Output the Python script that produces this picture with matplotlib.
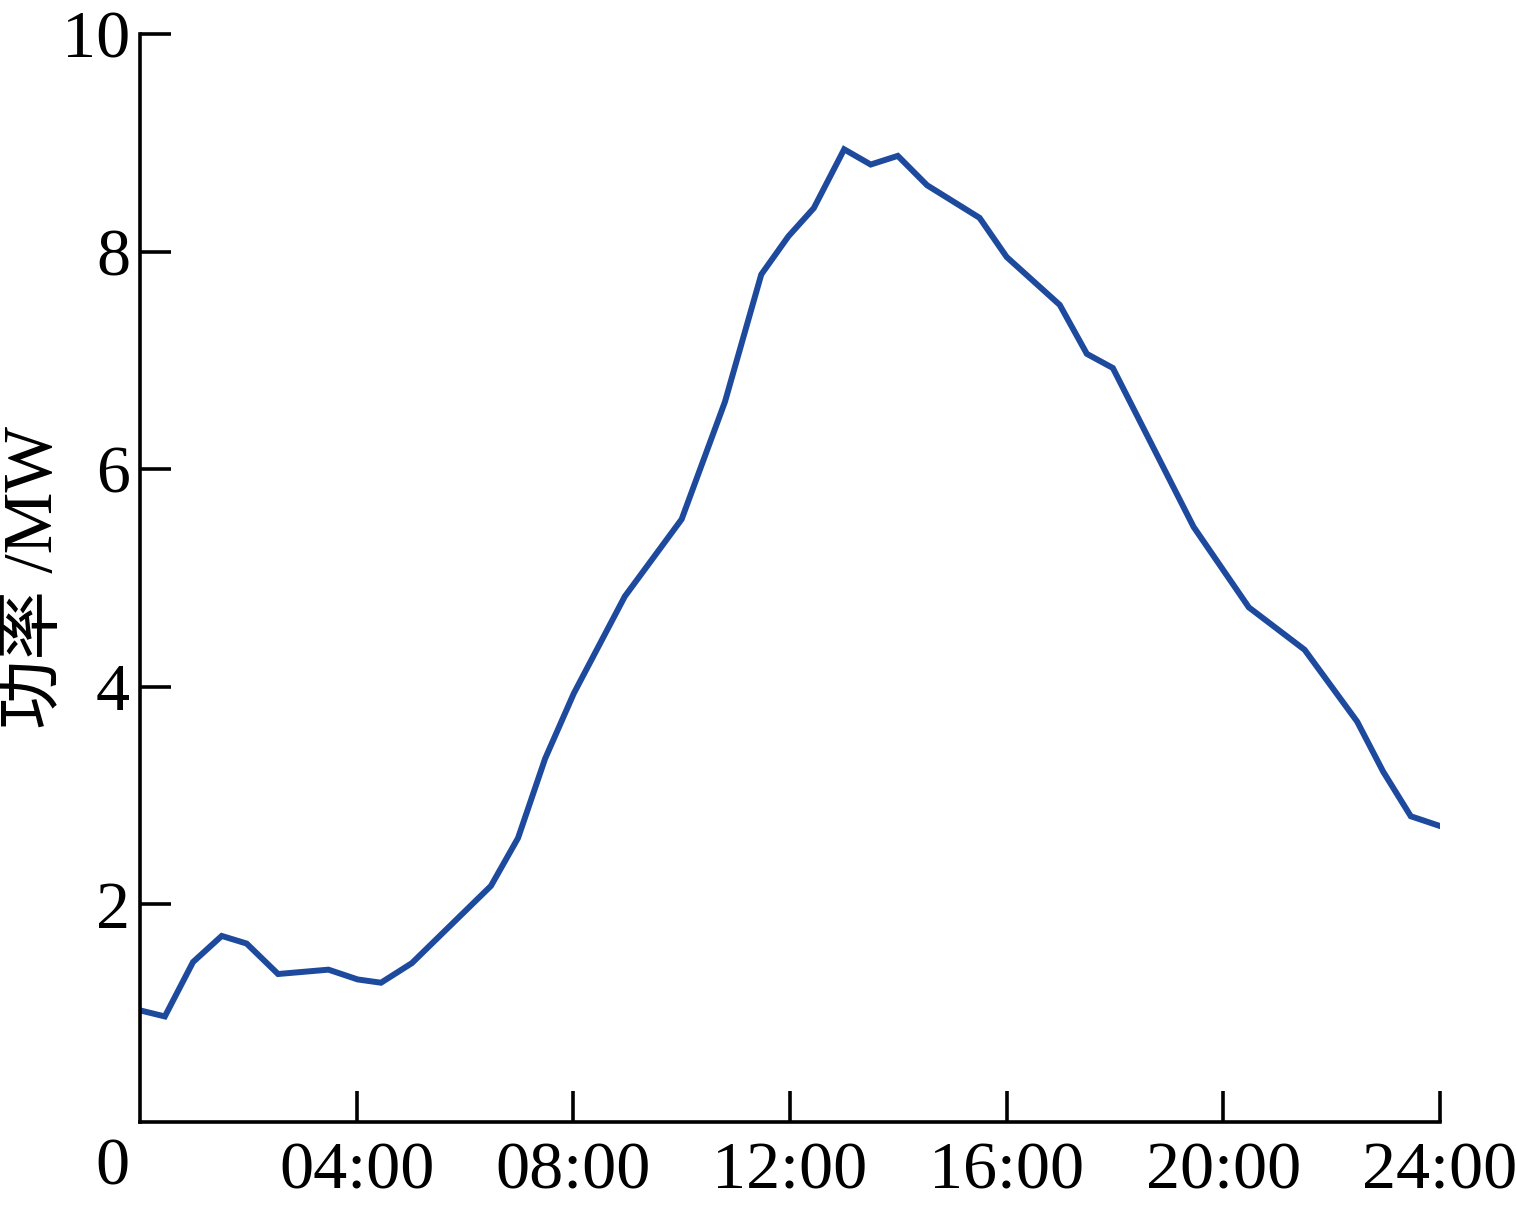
import matplotlib
matplotlib.use("Agg")
import matplotlib.pyplot as plt

# Daily power curve (hours, MW)
hours = [0.05, 0.46, 0.98, 1.51, 1.97, 2.55, 3.48, 4.02, 4.45, 5.02, 6.48,
         6.98, 7.48, 8.01, 8.95, 10.0, 10.8, 11.47, 11.97, 12.44, 13.0,
         13.49, 13.99, 14.53, 15.50, 16.0, 16.98, 17.48, 17.96, 19.45,
         20.47, 21.5, 22.47, 22.95, 23.46, 24.0]
power = [1.02, 0.97, 1.47, 1.71, 1.64, 1.36, 1.40, 1.31, 1.28, 1.46, 2.17,
         2.61, 3.34, 3.94, 4.83, 5.54, 6.62, 7.79, 8.14, 8.40, 8.94,
         8.80, 8.88, 8.61, 8.31, 7.95, 7.51, 7.06, 6.93, 5.47,
         4.73, 4.34, 3.68, 3.22, 2.81, 2.72]

xticks = [4, 8, 12, 16, 20, 24]
xtick_labels = ["04:00", "08:00", "12:00", "16:00", "20:00", "24:00"]
yticks = [2, 4, 6, 8, 10]

plt.rcParams["font.family"] = ["Liberation Serif", "Noto Sans CJK SC"]

fig = plt.figure(figsize=(15.16, 12.14), dpi=100)
ax = fig.add_axes([0.0923, 0.0758, 0.8576, 0.8962])

ax.plot(hours, power, color="#1e4a9e", lw=4.3, solid_joinstyle="miter")

ax.set_xlim(0, 24)
ax.set_ylim(0, 10)
ax.set_xticks(xticks)
ax.set_xticklabels(xtick_labels)
ax.set_yticks(yticks)
for s in ("top", "right"):
    ax.spines[s].set_visible(False)
for s in ("left", "bottom"):
    ax.spines[s].set_linewidth(2.6)
ax.tick_params(direction="in", length=22, width=2.6, labelsize=49)
ax.tick_params(axis="x", pad=14)
ax.tick_params(axis="y", pad=7)
ax.set_ylabel("功率 /MW", fontsize=50)
ax.yaxis.set_label_coords(-0.056, 0.5)
fig.text(112 / 1516, 1 - 1168 / 1214, "0", fontsize=49, ha="center", va="center")

fig.savefig("out.png", dpi=100)
